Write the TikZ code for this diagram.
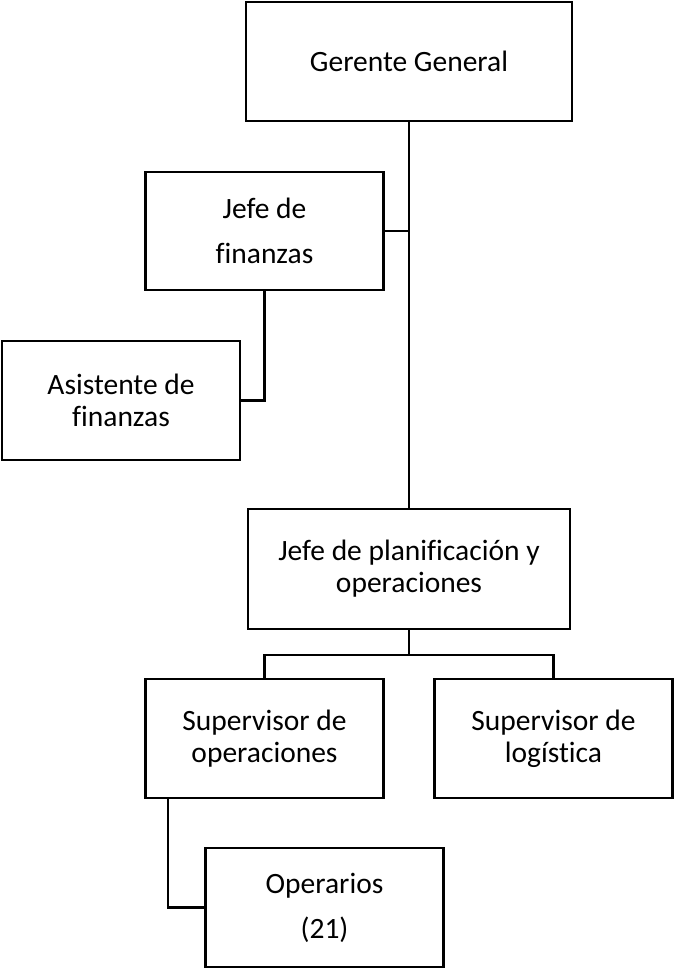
\documentclass[tikz,border=0pt]{standalone}
\usepackage{fontspec}
\setmainfont{Carlito}[Ligatures=NoCommon]
\begin{document}
\begin{tikzpicture}[x=1pt,y=-1pt,
  box/.style={draw=black,line width=2.8pt,rectangle,align=center,inner sep=0pt,
    font=\fontsize{29.5}{32}\selectfont},
  link/.style={draw=black,line width=2.6pt}]
\useasboundingbox (0,0) rectangle (674,969);
\node[box,minimum width=326pt,minimum height=119pt] (gg) at (409,61.5) {Gerente General};
\node[box,minimum width=238pt,minimum height=118pt] (jf) at (264.5,231) {Jefe de\\[13pt]finanzas};
\node[box,minimum width=238pt,minimum height=119pt] (af) at (121,400.5) {Asistente de\\finanzas};
\node[box,minimum width=322pt,minimum height=120pt] (jp) at (409,569) {Jefe de planificación y\\operaciones};
\node[box,minimum width=238pt,minimum height=119pt] (so) at (264.5,738.5) {Supervisor de\\operaciones};
\node[box,minimum width=238pt,minimum height=119pt] (sl) at (553.5,738.5) {Supervisor de\\logística};
\node[box,minimum width=238pt,minimum height=119pt] (op) at (324.5,907.5) {Operarios\\[13pt](21)};
\coordinate (bus) at (409,655);
\draw[link] (gg.south) -- (jp.north);
\draw[link] (jf.east) -- (jf.east -| gg.south);
\draw[link] (jf.south) |- (af.east);
\draw[link] (jp.south) -- (bus);
\draw[link] (so.north) |- (bus) -| (sl.north);
\draw[link] ([xshift=24pt]so.south west) |- (op.west);
\end{tikzpicture}
\end{document}
